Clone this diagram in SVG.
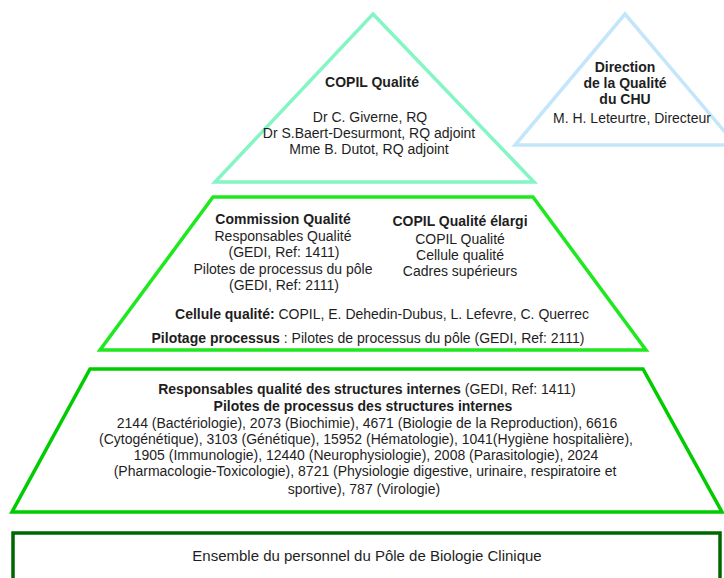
<svg xmlns="http://www.w3.org/2000/svg" width="724" height="578" viewBox="0 0 724 578">
<style>
text{font-family:"Liberation Sans",Arial,sans-serif;font-size:14px;fill:#1e1e1e;text-anchor:middle}
.b{font-weight:bold}
.shape{fill:#fff;stroke-width:3.5;stroke-linejoin:miter}
</style>
<rect width="724" height="578" fill="#fff"/>
<g id="copil">
<polygon class="shape" points="373,14 534,182 215,182" stroke="#84f5c4"/>
<text class="b" x="372" y="87">COPIL Qualité</text>
<text x="370" y="122">Dr C. Giverne, RQ</text>
<text x="369" y="138">Dr S.Baert-Desurmont, RQ adjoint</text>
<text x="369" y="154">Mme B. Dutot, RQ adjoint</text>
</g>
<g id="direction">
<polygon class="shape" points="625,14 736,145 515,145" stroke="#c4e6fa"/>
<text class="b" x="625" y="72">Direction</text>
<text class="b" x="625" y="88">de la Qualité</text>
<text class="b" x="625" y="104">du CHU</text>
<text x="632" y="123">M. H. Leteurtre, Directeur</text>
</g>
<g id="commission">
<polygon class="shape" points="213,197 533,197 646,350 100,350" stroke="#1ee81e"/>
<text class="b" x="283" y="224">Commission Qualité</text>
<text x="283" y="241">Responsables Qualité</text>
<text x="284" y="257">(GEDI, Ref: 1411)</text>
<text x="283" y="274">Pilotes de processus du pôle</text>
<text x="284" y="290">(GEDI, Ref: 2111)</text>
<text class="b" x="460" y="226">COPIL Qualité élargi</text>
<text x="460" y="244">COPIL Qualité</text>
<text x="460" y="260">Cellule qualité</text>
<text x="460" y="276">Cadres supérieurs</text>
<text x="382" y="319"><tspan class="b">Cellule qualité:</tspan> COPIL, E. Dehedin-Dubus, L. Lefevre, C. Querrec</text>
<text x="368" y="343"><tspan class="b">Pilotage processus</tspan> : Pilotes de processus du pôle (GEDI, Ref: 2111)</text>
</g>
<g id="structures">
<polygon class="shape" points="90,369 643,369 722,512 12,512" stroke="#00cc00"/>
<text x="367" y="394"><tspan class="b">Responsables qualité des structures internes</tspan> (GEDI, Ref: 1411)</text>
<text class="b" x="363" y="411">Pilotes de processus des structures internes</text>
<text x="367" y="428">2144 (Bactériologie), 2073 (Biochimie), 4671 (Biologie de la Reproduction), 6616</text>
<text x="366" y="444">(Cytogénétique), 3103 (Génétique), 15952 (Hématologie), 1041(Hygiène hospitalière),</text>
<text x="366" y="460">1905 (Immunologie), 12440 (Neurophysiologie), 2008 (Parasitologie), 2024</text>
<text x="365" y="476">(Pharmacologie-Toxicologie), 8721 (Physiologie digestive, urinaire, respiratoire et</text>
<text x="364" y="494">sportive), 787 (Virologie)</text>
</g>
<g id="ensemble">
<rect x="13" y="533" width="707" height="60" fill="#fff" stroke="#006600" stroke-width="3.5"/>
<text x="367" y="561" style="font-size:15px">Ensemble du personnel du Pôle de Biologie Clinique</text>
</g>
<g id="connectors"></g>
</svg>
